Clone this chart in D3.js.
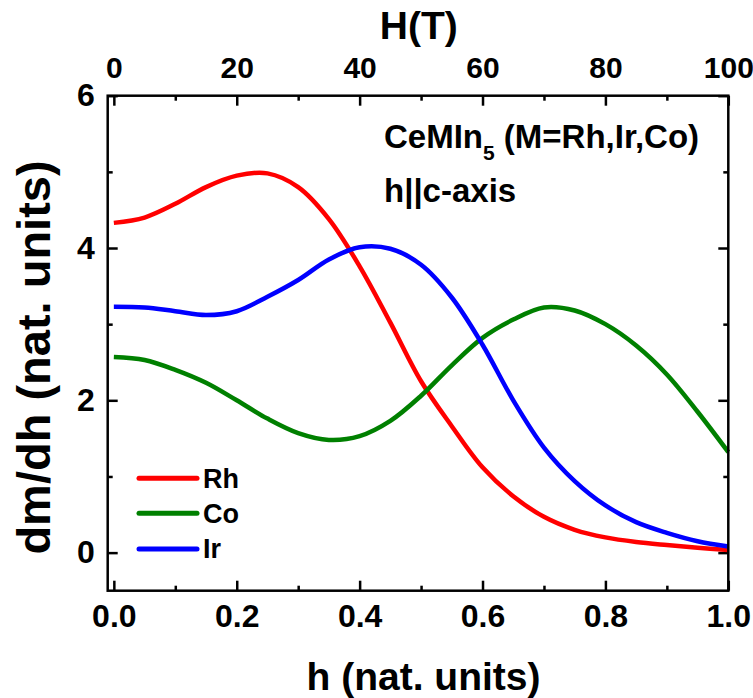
<!DOCTYPE html>
<html>
<head>
<meta charset="utf-8">
<script src="https://cdn.jsdelivr.net/npm/d3@7"></script>
<style>
  body { margin: 0; background: #fff; }
  svg { display: block; font-family: 'Liberation Sans', Arial, sans-serif; font-weight: bold; }
</style>
</head>
<body>
<svg id="chart"></svg>
<script>
// h grid (nat. units) and dm/dh curves
const hValues = [0, 0.05, 0.1, 0.15, 0.2, 0.25, 0.3, 0.35, 0.4, 0.45, 0.5,
  0.55, 0.6, 0.65, 0.7, 0.75, 0.8, 0.85, 0.9, 0.95, 1.0];
const rhValues = [4.33, 4.40, 4.58, 4.80, 4.95, 4.98, 4.80, 4.38, 3.76, 3.02, 2.25,
  1.66, 1.12, 0.74, 0.47, 0.30, 0.20, 0.14, 0.10, 0.065, 0.035];
const coValues = [2.57, 2.53, 2.40, 2.23, 2.00, 1.76, 1.57, 1.48, 1.53, 1.73, 2.06,
  2.46, 2.82, 3.06, 3.22, 3.18, 3.00, 2.72, 2.34, 1.85, 1.32];
const irValues = [3.23, 3.22, 3.17, 3.12, 3.17, 3.36, 3.58, 3.85, 4.01, 3.99, 3.78,
  3.35, 2.73, 2.00, 1.38, 0.94, 0.62, 0.40, 0.26, 0.15, 0.08];

const seriesNames = ['Rh', 'Co', 'Ir'];
const seriesColors = ['#ff0000', '#008000', '#0000ff'];

const hTicks = [0, 0.2, 0.4, 0.6, 0.8, 1.0];
const hMinorTicks = [0.1, 0.3, 0.5, 0.7, 0.9];
const fieldTicks = [0, 20, 40, 60, 80, 100];
const fieldMinorTicks = [10, 30, 50, 70, 90];
const yTicks = [0, 2, 4, 6];
const yMinorTicks = [1, 3, 5];

const width = 753;
const height = 698;
const plotLeft = 107.7;
const plotRight = 728.3;
const plotTop = 95.7;
const plotBottom = 590.7;

const svg = d3
  .select('#chart')
  .attr('width', width)
  .attr('height', height);

const xScale = d3.scaleLinear().domain([-0.01, 1]).range([plotLeft, plotRight]);
const fieldScale = d3.scaleLinear().domain([-1, 100]).range([plotLeft, plotRight]);
const yScale = d3.scaleLinear().domain([-0.5, 6]).range([plotBottom, plotTop]);

function styleAxis(g, size = 32) {
  g.select('.domain').remove();
  g.selectAll('.tick line').attr('stroke', '#000').attr('stroke-width', 2.5);
  g.selectAll('.tick text')
    .attr('fill', '#000')
    .style('font-size', `${size}px`)
    .style('font-family', "'Liberation Sans', Arial, sans-serif")
    .style('font-weight', 'bold');
}

// bottom
svg
  .append('g')
  .attr('transform', `translate(0, ${plotBottom})`)
  .call(d3.axisBottom(xScale).tickValues(hTicks).tickSize(-10).tickPadding(14)
    .tickFormat(d3.format('.1f')))
  .call(styleAxis);
svg
  .append('g')
  .attr('transform', `translate(0, ${plotBottom})`)
  .call(d3.axisBottom(xScale).tickValues(hMinorTicks).tickSize(-5).tickFormat(''))
  .call(styleAxis);

// top (field in tesla)
svg
  .append('g')
  .attr('transform', `translate(0, ${plotTop})`)
  .call(d3.axisTop(fieldScale).tickValues(fieldTicks).tickSize(-10).tickPadding(18)
    .tickFormat(d3.format('d')))
  .call(g => styleAxis(g, 30));
svg
  .append('g')
  .attr('transform', `translate(0, ${plotTop})`)
  .call(d3.axisTop(fieldScale).tickValues(fieldMinorTicks).tickSize(-5).tickFormat(''))
  .call(styleAxis);

// left
svg
  .append('g')
  .attr('transform', `translate(${plotLeft}, 0)`)
  .call(d3.axisLeft(yScale).tickValues(yTicks).tickSize(-10).tickPadding(13)
    .tickFormat(d3.format('d')))
  .call(styleAxis);
svg
  .append('g')
  .attr('transform', `translate(${plotLeft}, 0)`)
  .call(d3.axisLeft(yScale).tickValues(yMinorTicks).tickSize(-5).tickFormat(''))
  .call(styleAxis);

// right
svg
  .append('g')
  .attr('transform', `translate(${plotRight}, 0)`)
  .call(d3.axisRight(yScale).tickValues(yTicks).tickSize(-10).tickFormat(''))
  .call(styleAxis);
svg
  .append('g')
  .attr('transform', `translate(${plotRight}, 0)`)
  .call(d3.axisRight(yScale).tickValues(yMinorTicks).tickSize(-5).tickFormat(''))
  .call(styleAxis);

// curves
const lineFunc = d3
  .line()
  .x(d => xScale(d.h))
  .y(d => yScale(d.v))
  .curve(d3.curveCatmullRom);

[rhValues, coValues, irValues].forEach((vals, i) => {
  const data = vals.map((v, idx) => ({ h: hValues[idx], v }));
  svg
    .append('path')
    .attr('fill', 'none')
    .attr('stroke', seriesColors[i])
    .attr('stroke-width', 4.5)
    .attr('stroke-linejoin', 'round')
    .attr('d', lineFunc(data));
});

// frame
svg
  .append('rect')
  .attr('x', plotLeft)
  .attr('y', plotTop)
  .attr('width', plotRight - plotLeft)
  .attr('height', plotBottom - plotTop)
  .attr('fill', 'none')
  .attr('stroke', '#000')
  .attr('stroke-width', 2.5);

// legend
const legendY = [478.3, 513.3, 549];
seriesNames.forEach((name, i) => {
  svg
    .append('line')
    .attr('x1', 139)
    .attr('x2', 197)
    .attr('y1', legendY[i])
    .attr('y2', legendY[i])
    .attr('stroke', seriesColors[i])
    .attr('stroke-width', 5)
    .attr('stroke-linecap', 'round');
  svg
    .append('text')
    .attr('x', 203)
    .attr('y', legendY[i])
    .attr('dy', '0.35em')
    .style('font-size', '27px')
    .text(name);
});

// annotation
const note = svg
  .append('text')
  .attr('x', 384)
  .attr('y', 147.7)
  .style('font-size', '33px');
note.append('tspan').text('CeMIn');
note.append('tspan').attr('dy', 12).style('font-size', '21px').text('5');
note.append('tspan').attr('dy', -12).text(' (M=Rh,Ir,Co)');

svg
  .append('text')
  .attr('x', 384)
  .attr('y', 201.7)
  .style('font-size', '33px')
  .text('h||c-axis');

// axis titles
svg
  .append('text')
  .attr('x', 423.5)
  .attr('y', 690)
  .attr('text-anchor', 'middle')
  .style('font-size', '39px')
  .text('h (nat. units)');

svg
  .append('text')
  .attr('x', 418.8)
  .attr('y', 39.3)
  .attr('text-anchor', 'middle')
  .style('font-size', '39px')
  .text('H(T)');

svg
  .append('text')
  .attr('transform', 'translate(50, 357.5) rotate(-90)')
  .attr('text-anchor', 'middle')
  .style('font-size', '47px')
  .text('dm/dh (nat. units)');
</script>
</body>
</html>
